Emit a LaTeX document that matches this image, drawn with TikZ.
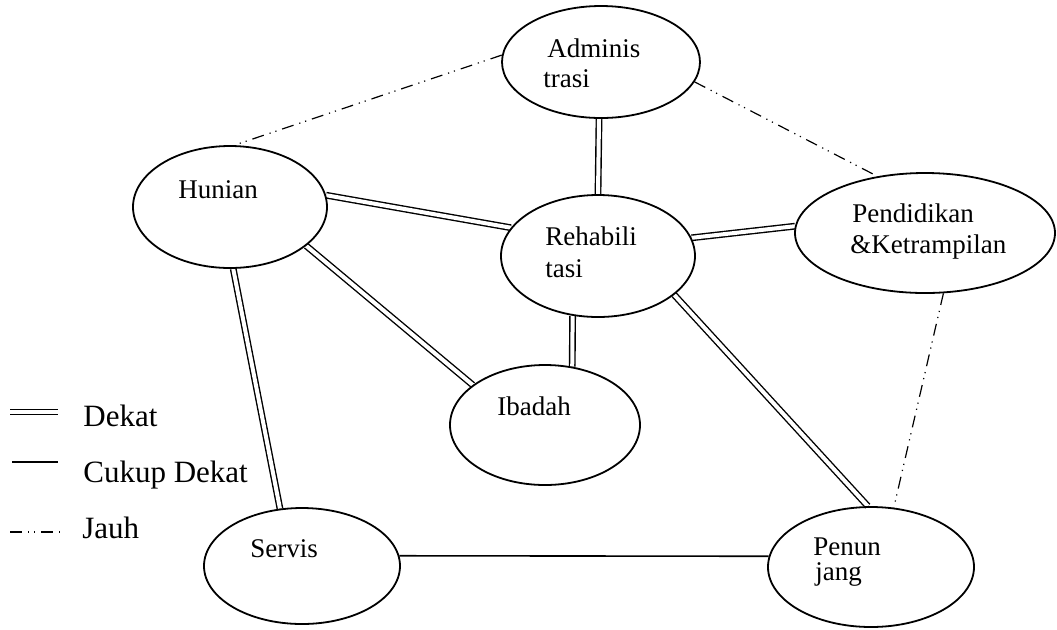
\documentclass[tikz,border=0pt]{standalone}
\usepackage{fontspec}
\setmainfont{Liberation Serif}
\usetikzlibrary{shapes.geometric,backgrounds}

\tikzset{
  zone/.style={draw, ellipse, line width=0.9pt, inner sep=0pt},
  tag/.style={anchor=base west, inner sep=0pt, font=\fontsize{13.5pt}{16pt}\selectfont},
  key/.style={anchor=base west, inner sep=0pt, font=\fontsize{15.5pt}{18pt}\selectfont},
  dekat/.style={double, double distance=2pt, line width=0.7pt},
  cukup/.style={line width=0.8pt},
  jauh/.style={line width=0.6pt, dash pattern=on 6pt off 3pt on 0.6pt off 2.5pt on 0.6pt off 3pt},
}

\begin{document}
\begin{tikzpicture}[x=0.5pt, y=-0.5pt]
  \useasboundingbox (0,0) rectangle (1057,629);

  % zones
  \node[zone, minimum width=99pt, minimum height=56pt] (adm) at (601,62) {};
  \node[zone, minimum width=97pt, minimum height=61pt] (hun) at (230,207) {};
  \node[zone, minimum width=97pt, minimum height=61pt] (reh) at (598,256) {};
  \node[zone, minimum width=130pt, minimum height=60pt] (pen) at (925,233) {};
  \node[zone, minimum width=95pt, minimum height=60pt] (iba) at (545,425) {};
  \node[zone, minimum width=98pt, minimum height=58pt] (ser) at (302,566) {};
  \node[zone, minimum width=103pt, minimum height=60pt] (pnj) at (871,567) {};

  \node[tag] (adm-a) at (547,57) {Adminis};
  \node[tag] (adm-b) at (543,87) {trasi};
  \node[tag] (hun-a) at (178,198) {Hunian};
  \node[tag] (reh-a) at (545,245) {Rehabili};
  \node[tag] (reh-b) at (545,277) {tasi};
  \node[tag] (pen-a) at (852,222) {Pendidikan};
  \node[tag] (pen-b) at (850,253) {\&Ketrampilan};
  \node[tag] (iba-a) at (497,415) {Ibadah};
  \node[tag] (ser-a) at (250,557) {Servis};
  \node[tag] (pnj-a) at (813,555) {Penun};
  \node[tag] (pnj-b) at (815,580) {jang};

  % relations
  \begin{scope}[on background layer]
    \draw[dekat] (adm.-92) -- (reh.90);
    \draw[dekat] (hun.7) -- (reh.162);
    \draw[dekat] (hun.-27) -- (iba.151);
    \draw[dekat] (hun.-87) -- (ser.111);
    \draw[dekat] (reh.11) -- (pen.177);
    \draw[dekat] (reh.-113) -- (iba.65);
    \draw[dekat] (reh.-27) -- (pnj.93);
    \draw[cukup] (ser.6) -- (pnj.174);
    \draw[jauh] (adm.176) -- (hun.86);
    \draw[jauh] (adm.-12) -- (pen.130);
    \draw[jauh] (pen.-73) -- (pnj.69);
  \end{scope}

  % legend
  \coordinate (k1a) at (10,412); \coordinate (k1b) at (58,412);
  \coordinate (k2a) at (12,462); \coordinate (k2b) at (58,462);
  \coordinate (k3a) at (10,532); \coordinate (k3b) at (60,532);
  \draw[dekat] (k1a) -- (k1b);
  \draw[cukup] (k2a) -- (k2b);
  \draw[jauh] (k3a) -- (k3b);
  \node[key] (k1) at (83,426) {Dekat};
  \node[key] (k2) at (83,482) {Cukup Dekat};
  \node[key] (k3) at (82,538) {Jauh};
\end{tikzpicture}
\end{document}
